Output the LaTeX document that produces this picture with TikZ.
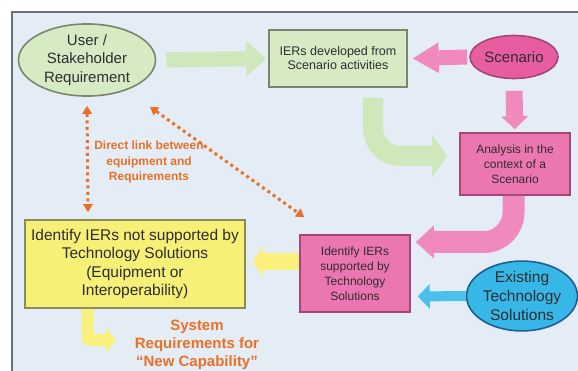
\documentclass[tikz,border=0pt]{standalone}
\usepackage{fontspec}
\setmainfont{Liberation Sans}
\usetikzlibrary{arrows.meta,shapes.geometric}
\definecolor{bg}{RGB}{228,237,246}
\definecolor{frame}{RGB}{110,110,115}
\definecolor{gfill}{RGB}{214,235,196}
\definecolor{gline}{RGB}{120,135,105}
\definecolor{garrow}{RGB}{206,232,188}
\definecolor{pfill}{RGB}{236,118,176}
\definecolor{pdark}{RGB}{232,92,160}
\definecolor{pline}{RGB}{165,70,120}
\definecolor{parrow}{RGB}{240,138,190}
\definecolor{cfill}{RGB}{55,182,232}
\definecolor{cline}{RGB}{30,95,145}
\definecolor{carrow}{RGB}{75,192,236}
\definecolor{yfill}{RGB}{246,240,118}
\definecolor{yline}{RGB}{140,138,90}
\definecolor{yarrow}{RGB}{250,241,125}
\definecolor{orng}{RGB}{234,112,40}
\definecolor{txt}{RGB}{45,45,50}
\tikzset{
  boxnode/.style={draw, line width=1.6pt, align=center, inner sep=0pt, text=txt},
  ellnode/.style={ellipse, draw, line width=1.6pt, align=center, inner sep=0pt, text=txt},
  blockarr/.style n args={4}{draw=#1, line width=#2, -{Triangle[length=#3, width=#4, line width=0pt, fill=#1]}},
  dotarr/.style={draw=orng, line width=3pt, dash pattern=on 3pt off 3.5pt,
     {Triangle[length=8pt,width=10pt,line width=0pt]}-{Triangle[length=8pt,width=10pt,line width=0pt]}},
  orangetext/.style={text=orng, align=center, font=\bfseries}
}
\begin{document}
\begin{tikzpicture}[x=1pt,y=-1pt]
\useasboundingbox (0,0) rectangle (578,371);
\fill[bg] (12,12) rectangle (578,371);
\draw[line width=2pt, frame] (12,371) -- (12,12) -- (578,12);

% nodes
\node[ellnode, fill=gfill, draw=gline, minimum width=137pt, minimum height=56pt,
      font=\fontsize{15}{18.5}\selectfont] (user) at (87,60) {User /\\Stakeholder\\Requirement};
\node[boxnode, fill=gfill, draw=gline, minimum width=138pt, minimum height=57pt,
      font=\fontsize{12.5}{14}\selectfont] (ier) at (338,58.5) {IERs developed from\\Scenario activities};
\node[ellnode, fill=pdark, draw=pline, minimum width=88pt, minimum height=43pt,
      font=\fontsize{15}{18}\selectfont] (scen) at (514,57) {Scenario};
\node[boxnode, fill=pfill, draw=pline, minimum width=110pt, minimum height=62pt,
      font=\fontsize{12}{15}\selectfont] (anal) at (515,164) {Analysis in the\\context of a\\Scenario};
\node[boxnode, fill=pfill, draw=pline, minimum width=110pt, minimum height=77pt,
      font=\fontsize{12}{15}\selectfont] (sup) at (355,273.5) {Identify IERs\\supported by\\Technology\\Solutions};
\node[ellnode, fill=cfill, draw=cline, minimum width=110pt, minimum height=68pt,
      font=\fontsize{15.5}{19}\selectfont] (exist) at (522,296) {Existing\\Technology\\Solutions};
\node[boxnode, fill=yfill, draw=yline, minimum width=220pt, minimum height=88pt,
      font=\fontsize{15.5}{18.5}\selectfont] (yel) at (135,264) {Identify IERs not supported by\\Technology Solutions\\(Equipment or\\Interoperability)};
\node[orangetext, font=\bfseries\fontsize{12}{15.5}\selectfont] (direct) at (149,162) {Direct link between\\equipment and\\Requirements};
\node[orangetext, font=\bfseries\fontsize{15}{18}\selectfont] (sys) at (197,345) {System\\Requirements for\\“New Capability”};

% block arrows
\draw[blockarr={garrow}{15pt}{20pt}{36pt}] ([xshift=10pt]user.east) -- ([xshift=-2pt]ier.west);
\draw[blockarr={parrow}{15pt}{26pt}{31pt}] ([xshift=-2pt]scen.west) -- ([xshift=5pt]ier.east);
\draw[blockarr={parrow}{17pt}{13pt}{27pt}] ([yshift=-11.5pt]scen.south) -- ([yshift=3pt]anal.north);
\draw[blockarr={garrow}{20pt}{15pt}{43pt}] ([xshift=35pt,yshift=-10pt]ier.south) -- (373,128)
   to[out=-90,in=180] (400,156) -- ([xshift=-12pt,yshift=8pt]anal.west);
\draw[blockarr={parrow}{22pt}{18pt}{33pt}] ([xshift=-1.5pt]anal.south) -- (513.5,212)
   to[out=-90,in=0] (484,242) -- ([xshift=5pt,yshift=31.5pt]sup.east);
\draw[blockarr={carrow}{10pt}{12pt}{25pt}] (exist.west) -- ([xshift=7pt,yshift=-23pt]sup.east);
\draw[blockarr={yarrow}{17pt}{10pt}{30pt}] ([yshift=12pt]sup.west) -- ([xshift=7pt,yshift=2.5pt]yel.east);
\draw[blockarr={yarrow}{12pt}{10pt}{25pt}, rounded corners=3pt] ([xshift=-47.5pt]yel.south) -- (87.5,340) -- (116,340);

% dotted double arrows
\draw[dotarr] ([yshift=-9pt]user.south) -- ([xshift=-47pt,yshift=7pt]yel.north);
\draw[dotarr] ([xshift=63pt,yshift=-10pt]user.south) -- ([xshift=5pt,yshift=17pt]sup.north west);
\end{tikzpicture}
\end{document}
